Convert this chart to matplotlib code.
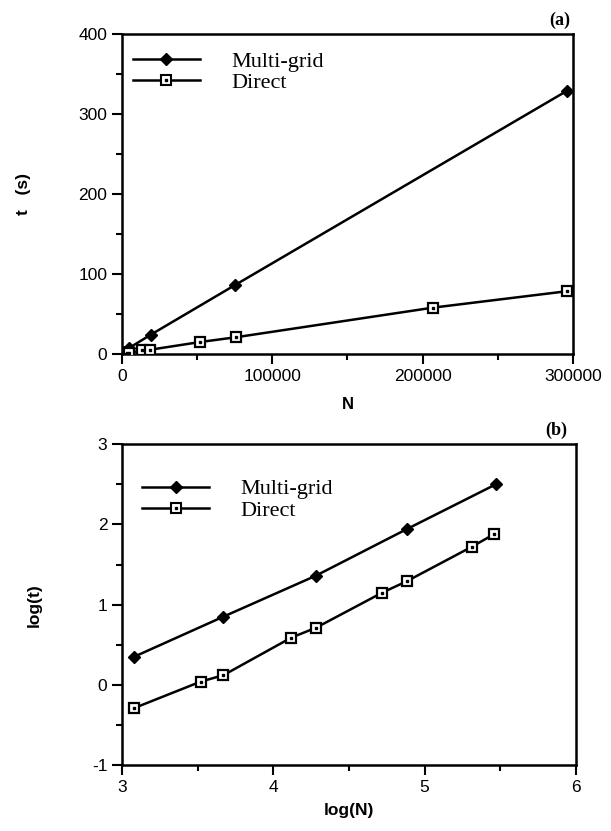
import numpy as np
import matplotlib.pyplot as plt
from matplotlib.ticker import MultipleLocator

plt.rcParams['axes.unicode_minus'] = False

# (a) linear plot
mg_N = [1200, 4700, 19000, 75000, 296000]
mg_t = [2.3, 7.5, 24, 86, 329]
dr_N = [1200, 3300, 4600, 13200, 18900, 52000, 76000, 207000, 296000]
dr_t = [0.5, 1.1, 1.3, 4.6, 5.4, 15, 21, 58, 78.5]

# (b) log-log plot
mg_logN = [3.08, 3.67, 4.28, 4.88, 5.47]
mg_logt = [0.35, 0.85, 1.36, 1.94, 2.50]
dr_logN = [3.08, 3.52, 3.67, 4.12, 4.28, 4.72, 4.88, 5.31, 5.46]
dr_logt = [-0.29, 0.04, 0.12, 0.59, 0.71, 1.15, 1.29, 1.72, 1.88]

sans = 'Liberation Sans'
serif = 'Liberation Serif'

fig = plt.figure(figsize=(6.11, 8.31), dpi=100)
ax1 = fig.add_axes([0.1997, 0.574, 0.738, 0.385])
ax2 = fig.add_axes([0.1997, 0.0794, 0.743, 0.386])


def draw(ax, xm, ym, xd, yd, anchor):
    ax.plot(xm, ym, '-', color='black', lw=1.8, marker='D', ms=6,
            mfc='black', mec='black', zorder=3)
    ax.plot(xd, yd, '-', color='black', lw=1.8, marker='s', ms=7,
            mfc='white', mec='black', mew=1.6, zorder=3)
    ax.plot(xd, yd, ls='none', marker='s', ms=2, color='black', zorder=4)
    h1 = plt.Line2D([], [], color='black', lw=1.8, marker='D', ms=6)
    h2 = plt.Line2D([], [], color='black', lw=1.8, marker='s', ms=6.5,
                    mfc='white', mew=1.5)
    h3 = plt.Line2D([], [], ls='none', marker='s', ms=2, color='black')
    ax.legend([h1, (h2, h3)], ['Multi-grid', 'Direct'], loc='upper left',
              bbox_to_anchor=anchor, frameon=False, handlelength=3.0,
              handletextpad=1.4, labelspacing=0.05, borderaxespad=0.0,
              prop={'family': serif, 'size': 16})
    for s in ax.spines.values():
        s.set_linewidth(1.8)
    ax.tick_params(which='both', direction='out', width=1.5,
                   labelsize=12.5)
    ax.tick_params(which='major', length=7)
    ax.tick_params(which='minor', length=4)


draw(ax1, mg_N, mg_t, dr_N, dr_t, (0.005, 0.975))
ax1.set_xlim(0, 300000)
ax1.set_ylim(0, 400)
ax1.set_xticks([0, 100000, 200000, 300000])
ax1.set_yticks([0, 100, 200, 300, 400])
ax1.xaxis.set_minor_locator(MultipleLocator(50000))
ax1.yaxis.set_minor_locator(MultipleLocator(50))
for lab in ax1.get_xticklabels() + ax1.get_yticklabels():
    lab.set_family(sans)
ax1.set_xlabel('N', family=sans, fontsize=12, fontweight='bold', labelpad=10)
ax1.set_ylabel('t   (s)', family=sans, fontsize=12.5, fontweight='bold',
               labelpad=34)
ax1.text(0.995, 1.015, '(a)', transform=ax1.transAxes, ha='right',
         va='bottom', family=serif, fontsize=13, fontweight='bold')

draw(ax2, mg_logN, mg_logt, dr_logN, dr_logt, (0.025, 0.92))
ax2.set_xlim(3, 6)
ax2.set_ylim(-1, 3)
ax2.set_xticks([3, 4, 5, 6])
ax2.set_yticks([-1, 0, 1, 2, 3])
ax2.xaxis.set_minor_locator(MultipleLocator(0.5))
ax2.yaxis.set_minor_locator(MultipleLocator(0.5))
for lab in ax2.get_xticklabels() + ax2.get_yticklabels():
    lab.set_family(sans)
ax2.set_xlabel('log(N)', family=sans, fontsize=12.5, fontweight='bold',
               labelpad=6)
ax2.set_ylabel('log(t)', family=sans, fontsize=12.5, fontweight='bold',
               labelpad=36)
ax2.text(0.98, 1.015, '(b)', transform=ax2.transAxes, ha='right',
         va='bottom', family=serif, fontsize=13, fontweight='bold')

fig.savefig('out.png', dpi=100)
